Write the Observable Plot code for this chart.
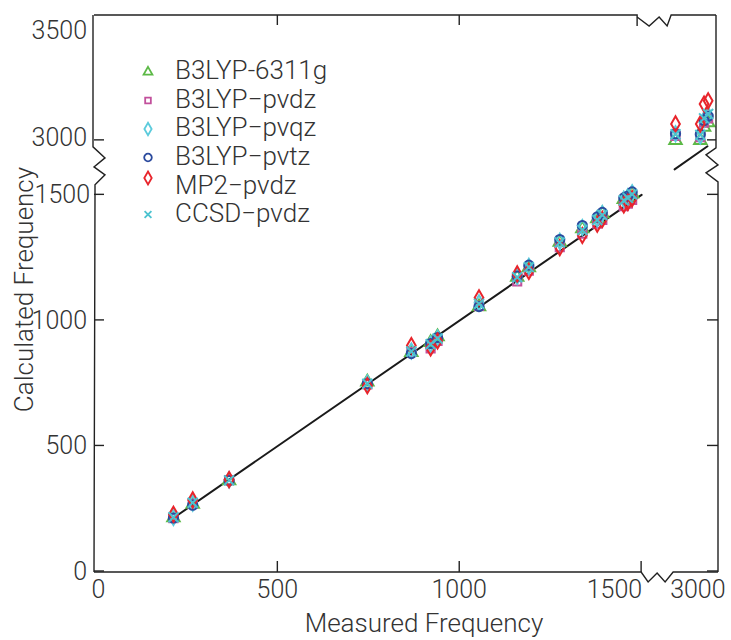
<!DOCTYPE html>
<html><head><meta charset="utf-8">
<script src="https://cdn.jsdelivr.net/npm/d3@7"></script>
<script src="https://cdn.jsdelivr.net/npm/@observablehq/plot@0.6"></script>
<style>body{margin:0;background:#fff} #chart{width:731px;height:640px}</style>
</head><body><div id="chart"></div>
<script>
// ---- data (cm^-1) ----
const measured   = [213,266,366,746,867,920,939,1053,1158,1190,1275,1337,1378,1392,1451,1462,1474, 2871,2950,2962,2975];
const b3lyp6311g = [214,268,362,755,872,912,935,1055,1172,1210,1312,1365,1405,1425,1482,1490,1505, 3000,3000,3060,3080];
const b3lypPvdz  = [212,270,364,745,874,888,918,1058,1155,1198,1292,1345,1385,1400,1455,1465,1480, 3020,3015,3080,3100];
const b3lypPvqz  = [215,272,365,750,878,905,930,1070,1175,1215,1315,1370,1405,1425,1482,1492,1508, 3030,3020,3095,3115];
const b3lypPvtz  = [213,264,362,748,868,908,932,1055,1176,1220,1322,1378,1412,1430,1488,1495,1512, 3030,3028,3090,3110];
const mp2Pvdz    = [228,285,366,740,900,890,918,1090,1185,1195,1290,1338,1383,1402,1460,1470,1485, 3075,3075,3165,3180];
const ccsdPvdz   = [216,274,363,748,876,905,928,1066,1172,1212,1310,1360,1400,1420,1478,1488,1502, 3028,3025,3100,3120];
const fitLow  = [200, 1500];
const fitHigh = [2868, 2973];

const seriesNames = ["B3LYP-6311g","B3LYP\u2212pvdz","B3LYP\u2212pvqz","B3LYP\u2212pvtz","MP2\u2212pvdz","CCSD\u2212pvdz"];
const seriesValues = [b3lyp6311g, b3lypPvdz, b3lypPvqz, b3lypPvtz, mp2Pvdz, ccsdPvdz];
const seriesSymbols = ["triangle","square","diamond","circle","diamond","times"];
const seriesColors = ["#5cb946","#c2509c","#5ccbdc","#2b4a9e","#e8242b","#4cc3d0"];

const xTicks = [0, 500, 1000, 1500, 3000];
const yTicks = [0, 500, 1000, 1500, 3000, 3500];

// ---- broken-axis transforms ----
const xLowMax = 1500, xHighMin = 2865, xHighMax = 3008, xGap = 88, xHighK = 0.8626;
const yLowMax = 1500, yHighMin = 3000, yHighMax = 3568, yGap = 217, yHighK = 0.8755;
const fx = v => v < 2000 ? v : xLowMax + xGap + (v - xHighMin) * xHighK;
const fy = v => v < 2000 ? v : yLowMax + yGap + (v - yHighMin) * yHighK;

const font = "Roboto, 'Liberation Sans', Arial, sans-serif";
const ink = "#333";

const rows = measured.map((m, i) => ({m, i}));

function decorations(index, scales, values, dims) {
  const X = v => scales.x(fx(v)), Y = v => scales.y(fy(v));
  const L = scales.x(-4), R = scales.x(fx(xHighMax)), B = scales.y(-4), T = scales.y(fy(yHighMax));
  const xb1 = X(xLowMax), xb2 = X(xHighMin), yb1 = Y(yLowMax), yb2 = Y(yHighMin);
  const g = d3.create("svg:g");
  const lines = g.append("g").attr("fill", "none").attr("stroke", "#222").attr("stroke-width", 1.4).attr("stroke-linejoin", "miter");
  const path = pts => lines.append("path").attr("d", d3.line()(pts));
  // frame with breaks
  path([[L,B],[xb1,B],[xb1+7,B+10],[xb1+16,B+1],[xb1+24,B+10],[xb2,B],[R,B]]);
  path([[L,T],[xb1-4,T],[xb1-4,T+11]]);
  path([[xb1-4,T+2],[xb1+8,T+11],[xb1+18,T+2],[xb1+26,T+11],[xb2-2,T],[R-2,T]]);
  path([[L-1,T],[L-1,yb2+7],[L+11,yb2+18],[L,yb2+27],[L+11,yb2+35],[L+1,yb2+45],[L+1,yb1],[L,B]]);
  path([[R-2,T],[R-2,yb2+8],[R-12,yb2+15],[R,yb2+25],[R-12,yb2+33],[R,yb2+42],[R,B]]);
  // inward ticks
  for (const v of yTicks.filter(v => v !== 3500)) {
    path([[L, Y(v)], [L + 10, Y(v)]]);
    path([[R - (v > 2000 ? 2 : 0), Y(v)], [R - 11, Y(v)]]);
  }
  for (const v of xTicks.filter(v => v > 0 && v <= 1500)) {
    path([[X(v), B], [X(v), B - 11]]);
    if (v < 1500) path([[X(v), T], [X(v), T + 10]]);
  }
  // tick labels
  const txt = g.append("g").attr("fill", ink).attr("font-family", font).attr("font-weight", 300).attr("font-size", 25);
  for (const v of yTicks) {
    txt.append("text").attr("x", L - 7 + (v === 1500 ? 3 : 0)).attr("y", Y(v) + (v === 3000 ? -3 : 0)).attr("dy", "0.35em")
      .attr("text-anchor", "end").text(v);
  }
  for (const v of xTicks) {
    const anchor = v === 1500 ? "end" : v === 3000 ? "start" : "middle";
    const xx = v === 1500 ? xb1 + 1 : v === 3000 ? xb2 - 3 : X(v) + (v === 0 ? 3 : 0);
    txt.append("text").attr("x", xx).attr("y", B + 17).attr("dy", "0.35em").attr("text-anchor", anchor).text(v);
  }
  // axis titles
  txt.append("text").attr("x", (L + R) / 2 + 18).attr("y", B + 51).attr("dy", "0.35em").attr("text-anchor", "middle")
    .attr("font-size", 26).text("Measured Frequency");
  txt.append("text").attr("transform", `translate(24,${(T + B) / 2 - 4}) rotate(-90)`).attr("dy", "0.35em").attr("text-anchor", "middle")
    .attr("font-size", 26).text("Calculated Frequency");
  // legend
  const lg = g.append("g");
  const legendR = [4.2, 3.6, 3.8, 3.8, 3.9, 3.2];
  seriesNames.forEach((name, i) => {
    const y = T + 55 + i * 28.5;
    const symType = {triangle: d3.symbolTriangle2, square: d3.symbolSquare2, diamond: d3.symbolDiamond, circle: d3.symbolCircle, times: d3.symbolTimes}[seriesSymbols[i]];
    lg.append("path").attr("transform", `translate(${L + 54},${y + (i === 4 ? -6 : 2)})`)
      .attr("d", d3.symbol(symType, Math.PI * legendR[i] * legendR[i])())
      .attr("fill", "none").attr("stroke", seriesColors[i]).attr("stroke-width", 1.8);
    lg.append("text").attr("x", L + 81).attr("y", y + (i === 4 ? 1 : 0)).attr("dy", "0.35em")
      .attr("text-anchor", "start")
      .attr("fill", ink).attr("font-family", font).attr("font-weight", 300).attr("font-size", 26).text(name);
  });
  return g.node();
}

const chart = Plot.plot({
  width: 731, height: 640,
  marginLeft: 94, marginRight: 13, marginTop: 15, marginBottom: 68,
  x: {domain: [-4, fx(xHighMax)], axis: null},
  y: {domain: [-4, fy(yHighMax)], axis: null},
  style: {background: "#fff", fontFamily: font},
  marks: [
    Plot.line(fitLow, {x: d => fx(d), y: d => fy(d), stroke: "#1a1a1a", strokeWidth: 2}),
    Plot.line(fitHigh, {x: d => fx(d), y: d => fy(d), stroke: "#1a1a1a", strokeWidth: 2}),
    ...seriesValues.map((vals, s) => Plot.dot(rows, {
      x: d => fx(d.m), y: d => fy(vals[d.i]),
      symbol: seriesSymbols[s], r: 4.6, fill: "none",
      stroke: seriesColors[s], strokeWidth: 2
    })),
    decorations
  ]
});
document.getElementById("chart").appendChild(chart);
</script>
</body></html>
